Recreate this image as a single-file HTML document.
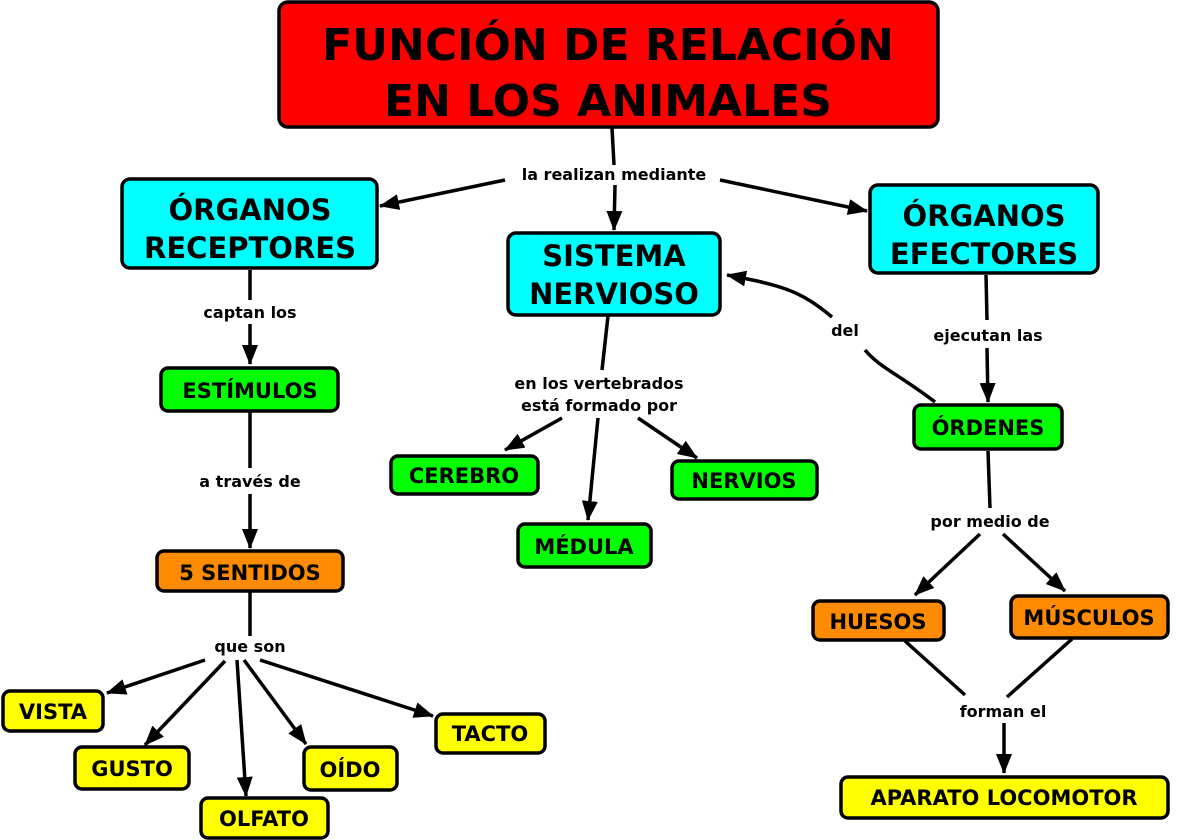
<!DOCTYPE html>
<html><head><meta charset="utf-8"><style>
html,body{margin:0;padding:0;background:#fff}
svg{display:block}
text{font-family:"DejaVu Sans","Liberation Sans",sans-serif;font-weight:bold;fill:#000;text-anchor:middle}
.l{font-size:16px}
rect{stroke:#000;stroke-width:3.5}
line,path{stroke:#000;stroke-width:3.5;fill:none}
</style></head><body>
<svg width="1183" height="840" viewBox="0 0 1183 840" xmlns="http://www.w3.org/2000/svg">
<defs><marker id="a" markerWidth="8" markerHeight="8" refX="7" refY="4" orient="auto" markerUnits="userSpaceOnUse" viewBox="0 0 8 8"><path d="M0,0 L8,4 L0,8 z" style="fill:#000;stroke:none"/></marker>
<marker id="b" markerWidth="20" markerHeight="16" refX="19" refY="8" orient="auto" markerUnits="userSpaceOnUse"><path d="M0,0 L20,8 L0,16 z" style="fill:#000;stroke:none"/></marker></defs>

<!-- connectors -->
<line x1="612" y1="128" x2="614" y2="165"/>
<line x1="505" y1="180" x2="380" y2="206" marker-end="url(#b)"/>
<line x1="615" y1="185" x2="614" y2="230" marker-end="url(#b)"/>
<line x1="720" y1="180" x2="867" y2="211" marker-end="url(#b)"/>
<line x1="250" y1="270" x2="250" y2="300"/>
<line x1="250" y1="324" x2="250" y2="364" marker-end="url(#b)"/>
<line x1="250" y1="412" x2="250" y2="468"/>
<line x1="250" y1="494" x2="250" y2="548" marker-end="url(#b)"/>
<line x1="250" y1="592" x2="250" y2="636"/>
<line x1="205" y1="660" x2="107" y2="693" marker-end="url(#b)"/>
<line x1="225" y1="661" x2="145" y2="745" marker-end="url(#b)"/>
<line x1="237" y1="660" x2="246" y2="796" marker-end="url(#b)"/>
<line x1="244" y1="660" x2="306" y2="744" marker-end="url(#b)"/>
<line x1="260" y1="660" x2="433" y2="716" marker-end="url(#b)"/>
<line x1="608" y1="316" x2="602" y2="370"/>
<line x1="562" y1="418" x2="505" y2="450" marker-end="url(#b)"/>
<line x1="598" y1="418" x2="588" y2="520" marker-end="url(#b)"/>
<line x1="638" y1="418" x2="697" y2="458" marker-end="url(#b)"/>
<path d="M935,402 C900,375 880,368 865,350"/>
<path d="M832,317 C800,290 780,285 727,275" marker-end="url(#b)"/>
<line x1="986" y1="275" x2="987" y2="320"/>
<line x1="987" y1="348" x2="988" y2="402" marker-end="url(#b)"/>
<line x1="988" y1="451" x2="990" y2="508"/>
<line x1="980" y1="534" x2="915" y2="595" marker-end="url(#b)"/>
<line x1="1003" y1="534" x2="1065" y2="591" marker-end="url(#b)"/>
<line x1="905" y1="641" x2="965" y2="695"/>
<line x1="1072" y1="639" x2="1007" y2="697"/>
<line x1="1004" y1="723" x2="1004" y2="773" marker-end="url(#b)"/>

<!-- nodes -->
<rect x="279" y="2" width="659" height="125" rx="9" fill="#ff0000"/>
<text x="608" y="60" font-size="44">FUNCIÓN DE RELACIÓN</text>
<text x="608" y="116" font-size="44">EN LOS ANIMALES</text>

<rect x="122" y="179" width="255" height="89" rx="8" fill="#00ffff"/>
<text x="250" y="220" font-size="29">ÓRGANOS</text>
<text x="250" y="258" font-size="29">RECEPTORES</text>

<rect x="508" y="233" width="212" height="82" rx="8" fill="#00ffff"/>
<text x="614" y="266" font-size="29">SISTEMA</text>
<text x="614" y="304" font-size="29">NERVIOSO</text>

<rect x="870" y="185" width="228" height="88" rx="8" fill="#00ffff"/>
<text x="984" y="226" font-size="29">ÓRGANOS</text>
<text x="984" y="264" font-size="29">EFECTORES</text>

<rect x="161" y="368" width="177" height="43" rx="7" fill="#00ff00"/>
<text x="250" y="398" font-size="21">ESTÍMULOS</text>
<rect x="157" y="551" width="186" height="40" rx="7" fill="#ff8c00"/>
<text x="250" y="580" font-size="21">5 SENTIDOS</text>

<rect x="391" y="456" width="147" height="38" rx="7" fill="#00ff00"/>
<text x="464" y="483" font-size="21">CEREBRO</text>
<rect x="518" y="524" width="133" height="43" rx="7" fill="#00ff00"/>
<text x="584" y="554" font-size="21">MÉDULA</text>
<rect x="672" y="461" width="145" height="38" rx="7" fill="#00ff00"/>
<text x="744" y="488" font-size="21">NERVIOS</text>

<rect x="914" y="405" width="148" height="44" rx="7" fill="#00ff00"/>
<text x="988" y="435" font-size="21">ÓRDENES</text>
<rect x="813" y="601" width="131" height="39" rx="7" fill="#ff8c00"/>
<text x="878" y="629" font-size="21">HUESOS</text>
<rect x="1011" y="596" width="157" height="42" rx="7" fill="#ff8c00"/>
<text x="1089" y="625" font-size="21">MÚSCULOS</text>
<rect x="841" y="777" width="327" height="41" rx="7" fill="#ffff00"/>
<text x="1004" y="805" font-size="21">APARATO LOCOMOTOR</text>

<rect x="3" y="691" width="100" height="40" rx="7" fill="#ffff00"/>
<text x="53" y="719" font-size="21">VISTA</text>
<rect x="75" y="747" width="114" height="42" rx="7" fill="#ffff00"/>
<text x="132" y="776" font-size="21">GUSTO</text>
<rect x="201" y="798" width="127" height="40" rx="7" fill="#ffff00"/>
<text x="264" y="826" font-size="21">OLFATO</text>
<rect x="304" y="747" width="93" height="43" rx="7" fill="#ffff00"/>
<text x="350" y="777" font-size="21">OÍDO</text>
<rect x="436" y="714" width="109" height="39" rx="7" fill="#ffff00"/>
<text x="490" y="741" font-size="21">TACTO</text>

<!-- labels -->
<text class="l" x="614" y="180">la realizan mediante</text>
<text class="l" x="250" y="318">captan los</text>
<text class="l" x="250" y="487">a través de</text>
<text class="l" x="250" y="652">que son</text>
<text class="l" x="599" y="389">en los vertebrados</text>
<text class="l" x="599" y="411">está formado por</text>
<text class="l" x="845" y="336">del</text>
<text class="l" x="988" y="341">ejecutan las</text>
<text class="l" x="990" y="527">por medio de</text>
<text class="l" x="1003" y="717">forman el</text>
</svg>
</body></html>
